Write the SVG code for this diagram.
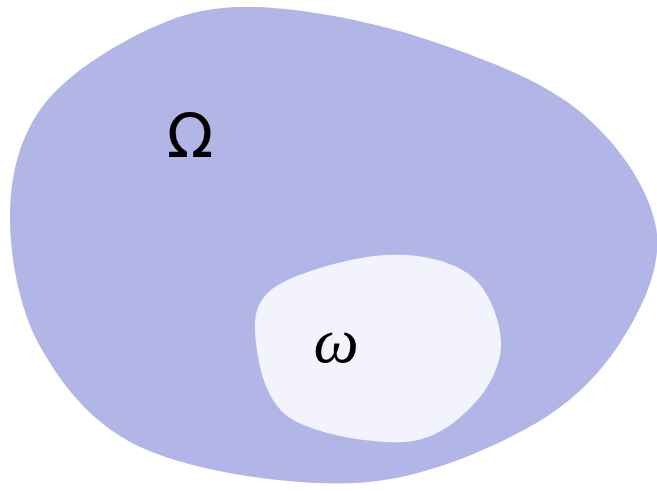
<svg xmlns="http://www.w3.org/2000/svg" width="657" height="491" viewBox="0 0 657 491">
<style>
.outer{fill:#b1b6e6;stroke:none}
.inner{fill:#f2f3fd;stroke:none}
.lbl{fill:#000;text-anchor:middle}
</style>
<rect width="657" height="491" fill="#ffffff"/>
<g id="Omega">
<path class="outer" d="M255,7 C300.3,8.2 365.2,19.8 419,37 C472.8,54.2 538.5,78.3 578,110 C617.5,141.7 649,188.2 656,227 C663,265.8 642,309.2 620,343 C598,376.8 568,406.7 524,430 C480,453.3 418.8,479.7 356,483 C293.2,486.3 199.3,472.2 147,450 C94.7,427.8 64.8,388.8 42,350 C19.2,311.2 10,257.5 10,217 C10,176.5 19.2,138.2 42,107 C64.8,75.8 111.5,46.7 147,30 C182.5,13.3 209.7,5.8 255,7 Z"/>
<text class="lbl" x="190" y="157" font-family="DejaVu Sans, sans-serif" font-size="61">Ω</text>
</g>
<g id="omega">
<path class="inner" d="M385,255 C417.5,253 450.7,260.3 470,275 C489.3,289.7 500.5,321.3 501,343 C501.5,364.7 489,388.5 473,405 C457,421.5 435.5,439.8 405,442 C374.5,444.2 314.8,434.5 290,418 C265.2,401.5 258.5,364.8 256,343 C253.5,321.2 253.5,301.7 275,287 C296.5,272.3 352.5,257 385,255 Z"/>
<text class="lbl" x="336" y="362" font-family="Liberation Serif, serif" font-style="italic" font-size="64">ω</text>
</g>
</svg>
